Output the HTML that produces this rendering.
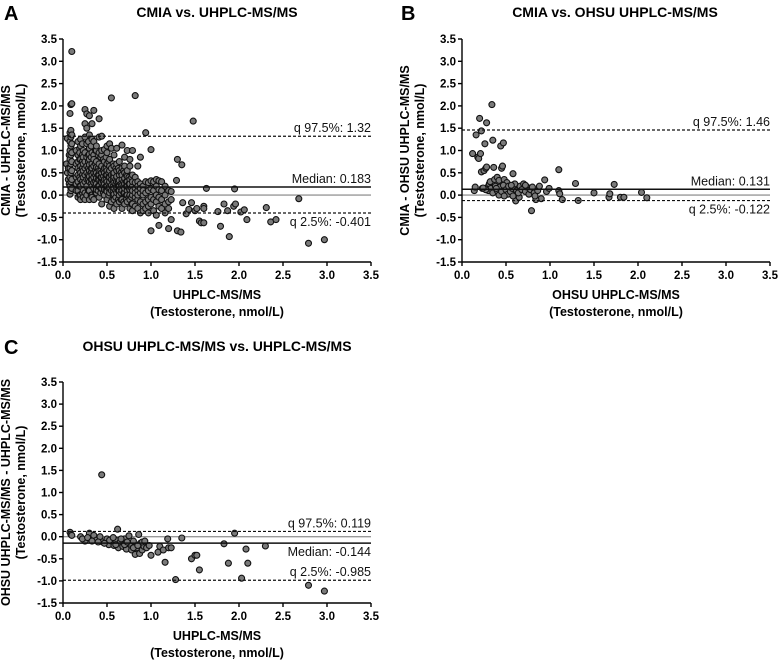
<!DOCTYPE html>
<html><head><meta charset="utf-8">
<style>
html,body{margin:0;padding:0;background:#fff;}
svg{display:block;font-family:"Liberation Sans",Arial,sans-serif;}
</style></head>
<body>
<svg id="fig" width="779" height="661" viewBox="0 0 779 661"></svg>
<script>
// ---------- shared axis ticks ----------
const xTicks=[0,0.5,1,1.5,2,2.5,3,3.5];
const yTicks=[-1.5,-1,-0.5,0,0.5,1,1.5,2,2.5,3,3.5];
const xTickLabels=["0.0","0.5","1.0","1.5","2.0","2.5","3.0","3.5"];
const yTickLabels=["-1.5","-1.0","-0.5","0.0","0.5","1.0","1.5","2.0","2.5","3.0","3.5"];

// ---------- Panel A data (column x values with their y values) ----------
const aColX=[0.04,0.05,0.06,0.07,0.08,0.09,0.1,0.15,0.17,0.19,0.2,0.22,0.23,0.25,0.27,0.29,0.3,0.32,0.33,0.35,0.37,0.38,0.4,0.41,0.43,0.44,0.46,0.47,0.49,0.5,0.52,0.53,0.55,0.57,0.58,0.6,0.61,0.63,0.64,0.66,0.67,0.69,0.7,0.72,0.73,0.75,0.76,0.78,0.79,0.82,0.85,0.88,0.91,0.94,0.97,1.0,1.03,1.06,1.09,1.12,1.16,1.2,1.23];
const aColY=[
[0.7],[1.27,0.5],[0.6,0.35],[0.25,0.9],
[0.02,0.2,0.4,0.6,0.8,1.0,1.2,1.4,1.83],
[0.1,0.3,0.5,0.7,0.9,1.1,1.3,1.45,2.03],
[0.15,0.35,0.55,0.75,0.95,1.15,1.35,2.05,3.22],
[0.1,0.4,0.7,1.0,0.25],
[1.2,0.9,0.6,0.3,0.1,-0.05,0.75,0.45],
[1.05,0.8,0.55,0.2,0.0,0.4,0.95],
[1.1,0.8,0.5,0.2,0.0,0.65,0.35,1.25,-0.1],
[0.9,0.6,0.3,0.05,0.45,0.75,1.15],
[1.0,0.7,0.4,0.1,0.55,0.25,-0.05,0.85],
[1.92,1.6,1.3,0.95,0.6,0.3,0.05,-0.1,0.45,0.75],
[1.82,1.5,1.15,0.85,0.5,0.2,0.65,0.35,0.0],
[1.2,0.9,0.6,0.35,0.1,0.75,0.45],
[1.78,1.35,1.05,0.8,0.55,0.3,0.1,-0.1,0.42,0.68,0.92],
[1.1,0.85,0.5,0.25,0.0,0.6,0.35],
[1.6,1.25,0.95,0.7,0.45,0.2,0.0,0.6,0.35,-0.05],
[1.9,1.2,0.9,0.65,0.4,0.15,-0.1,0.5,0.28,0.8],
[1.0,0.7,0.45,0.2,0.05,0.55,0.3],
[1.0,0.75,0.5,0.25,0.05,0.62,0.38,0.12,1.1],
[0.9,0.6,0.35,0.1,0.45,0.2],
[1.71,1.3,0.95,0.7,0.45,0.2,-0.05,0.33,0.55],
[0.85,0.55,0.3,0.05,0.4,0.15],
[1.32,0.9,0.65,0.4,0.15,-0.2,0.5,0.28,1.0],
[0.8,0.55,0.3,0.05,0.42,0.2],
[1.02,0.75,0.5,0.25,0.0,0.6,0.35,0.12],
[0.85,0.6,0.35,0.1,0.45,0.2],
[0.95,0.7,0.45,0.2,-0.1,0.55,0.3,0.08,1.1],
[0.75,0.5,0.25,0.0,0.4,0.15],
[1.15,0.8,0.55,0.3,0.05,-0.25,0.4,0.18,0.65],
[2.18,1.05,0.6,0.35,0.1,-0.15,0.45,0.22],
[0.7,0.45,0.2,0.0,0.33,0.1],
[0.9,0.65,0.4,0.15,-0.1,0.5,0.28,0.02,-0.3],
[0.6,0.35,0.1,-0.05,0.25],
[1.05,0.55,0.3,0.05,-0.2,0.42,0.18,0.7],
[0.6,0.3,0.1,-0.1,0.2],
[0.75,0.45,0.2,0.0,-0.15,0.33,0.1,0.55],
[0.5,0.25,0.05,-0.1,0.15],
[1.12,0.6,0.35,0.1,-0.1,0.45,0.22,-0.3],
[0.55,0.3,0.05,-0.15,0.2],
[0.85,0.5,0.25,0.05,-0.2,0.38,0.15,0.65],
[0.45,0.2,0.0,-0.1,0.3],
[1.0,0.55,0.3,0.1,-0.15,0.42,0.2,0.0],
[0.4,0.15,-0.05,0.25],
[0.65,0.35,0.12,-0.1,0.25,0.0,-0.3,0.8],
[0.4,0.15,-0.05,-0.2],
[1.0,0.45,0.2,0.0,-0.2,0.3,0.1,-0.35],
[2.23,0.4,0.15,-0.05,-0.25,0.28,0.05],
[0.65,0.3,0.1,-0.1,-0.3,0.2,0.0],
[0.85,0.25,0.05,-0.15,-0.4,0.15],
[0.2,0.0,-0.2,-0.35,0.1],
[1.4,0.3,0.05,-0.15,-0.3],
[0.28,0.1,-0.1,-0.25,-0.4],
[1.02,0.32,0.15,-0.05,-0.2,-0.8],
[0.3,0.1,-0.1,-0.35],
[0.35,0.2,0.0,-0.15,-0.45],
[0.32,0.12,-0.05,-0.25,-0.68],
[0.3,0.1,-0.1,-0.3],
[0.2,0.0,-0.2,-0.4],
[0.1,-0.15,-0.3,-0.75],
[0.08,-0.1,-0.55]
];
const aSparseX=[1.29,1.3,1.35,1.3,1.34,1.36,1.4,1.43,1.46,1.48,1.5,1.52,1.55,1.57,1.6,1.6,1.63,1.6,1.76,1.79,1.83,1.87,1.89,1.94,1.95,1.96,2.02,2.06,2.09,2.31,2.36,2.42,2.68,2.79,2.97];
const aSparseY=[0.33,0.8,0.68,-0.8,-0.83,-0.17,-0.42,-0.32,-0.17,1.66,-0.35,-0.3,-0.58,-0.62,-0.25,-0.3,0.15,-0.62,-0.37,-0.7,-0.2,-0.35,-0.93,-0.25,0.14,-0.2,-0.38,-0.33,-0.55,-0.28,-0.6,-0.55,-0.08,-1.08,-1.0];

// ---------- Panel B data ----------
const bX=[0.12,0.14,0.15,0.16,0.18,0.19,0.2,0.21,0.22,0.22,0.23,0.25,0.26,0.27,0.28,0.28,0.3,0.31,0.32,0.34,0.35,0.36,0.37,0.4,0.42,0.44,0.45,0.46,0.47,0.48,0.51,0.58,0.61,0.65,0.79,0.9,0.94,0.96,0.99,1.1,1.1,1.11,1.14,1.29,1.32,1.5,1.67,1.68,1.73,1.8,1.84,2.04,2.1,
0.3,0.33,0.35,0.38,0.4,0.42,0.43,0.45,0.47,0.5,0.52,0.53,0.55,0.57,0.58,0.6,0.62,0.64,0.66,0.68,0.7,0.72,0.74,0.76,0.78,0.8,0.82,0.84,0.86,0.88,0.6,0.56,0.48,0.39,0.27,0.24,0.72,0.83];
const bY=[0.93,0.1,0.18,1.35,0.85,0.82,1.72,0.93,1.44,0.52,0.15,0.55,1.15,0.6,1.62,0.63,0.2,0.25,0.3,2.03,1.23,0.62,0.35,0.4,0.33,1.1,0.6,0.65,1.17,0.35,0.28,0.48,-0.13,-0.05,-0.35,-0.08,0.34,0.08,0.15,0.57,0.1,0.03,-0.1,0.26,-0.12,0.05,-0.05,0.03,0.24,-0.05,-0.05,0.06,-0.06,
0.1,0.15,0.05,0.2,0.1,0.0,0.18,0.08,0.22,0.12,0.02,0.2,0.08,0.15,-0.02,0.18,0.1,0.05,0.2,0.12,0.25,0.08,0.18,0.02,0.12,0.18,0.05,-0.1,0.1,0.2,0.25,0.22,-0.02,0.15,0.12,0.16,0.22,-0.02];

// ---------- Panel C data ----------
const cX=[0.08,0.09,0.1,0.2,0.25,0.3,0.32,0.35,0.38,0.42,0.44,0.45,0.5,0.52,0.55,0.58,0.6,0.62,0.63,0.65,0.68,0.7,0.72,0.75,0.76,0.78,0.8,0.82,0.84,0.86,0.87,0.88,0.9,0.92,0.95,0.98,1.0,1.08,1.1,1.14,1.16,1.19,1.2,1.23,1.28,1.35,1.46,1.5,1.52,1.55,1.83,1.88,1.95,2.03,2.08,2.1,2.3,2.79,2.97,
0.22,0.28,0.33,0.4,0.47,0.53,0.57,0.6,0.66,0.7,0.73,0.8,0.85,0.9,0.93];
const cY=[0.1,0.05,0.03,0.0,-0.1,0.08,-0.05,0.03,-0.08,0.0,1.4,-0.12,-0.05,-0.18,-0.1,-0.2,-0.08,0.17,-0.25,-0.12,-0.22,-0.05,-0.28,0.02,-0.15,-0.3,-0.1,-0.4,-0.25,0.05,-0.38,-0.15,-0.3,-0.22,-0.25,-0.2,-0.42,-0.35,-0.22,-0.3,-0.58,-0.05,-0.25,-0.25,-0.97,-0.03,-0.5,-0.42,-0.42,-0.75,-0.16,-0.6,0.08,-0.94,-0.28,-0.6,-0.21,-1.1,-1.23,
-0.05,-0.02,-0.1,-0.12,-0.15,-0.08,-0.02,-0.18,-0.05,-0.18,-0.12,-0.25,-0.2,-0.12,-0.1];

// reference lines: [q97.5, median, q2.5]
const aStats=[1.32,0.183,-0.401];
const bStats=[1.46,0.131,-0.122];
const cStats=[0.119,-0.144,-0.985];
const aStatLabels=["q 97.5%: 1.32","Median: 0.183","q 2.5%: -0.401"];
const bStatLabels=["q 97.5%: 1.46","Median: 0.131","q 2.5%: -0.122"];
const cStatLabels=["q 97.5%: 0.119","Median: -0.144","q 2.5%: -0.985"];

const NS="http://www.w3.org/2000/svg";
const svg=document.getElementById('fig');
function mk(tag,attrs,parent,text){
  const e=document.createElementNS(NS,tag);
  for(const k in attrs)e.setAttribute(k,attrs[k]);
  if(text!==undefined)e.textContent=text;
  (parent||svg).appendChild(e);return e;
}

function panel(p){
  const g=mk('g',{});
  
  
  const sx=v=>p.x0+(v-0)/3.5*(p.x1-p.x0);
  const sy=v=>p.yb+(v+1.5)/5*(p.yt-p.yb);
  const L=mk('text',{x:p.letterX,y:p.titleY+3,'font-size':20,'font-weight':'bold'},g,p.letter);
  
  
  const T=mk('text',{x:p.titleX,y:p.titleY,'font-size':14,'font-weight':'bold','text-anchor':'middle'},g,p.title);
  
  
  const z=mk('line',{x1:p.x0,x2:p.x1,y1:sy(0),y2:sy(0),stroke:'#999','stroke-width':1.4},g);
  
  
  const pg=mk('g',{},g);
  
  
  for(let i=0;i<p.xs.length;i++){
    const c=mk('circle',{cx:sx(p.xs[i]).toFixed(1),cy:sy(p.ys[i]).toFixed(1),r:3,fill:'#7a7a7a',stroke:'#111','stroke-width':1.1},pg);
    
    
  }
  const names=['q97-line','median-line','q2-line'];
  for(let i=0;i<3;i++){
    const ln=mk('line',{x1:p.x0,x2:p.x1,y1:sy(p.stats[i]),y2:sy(p.stats[i]),stroke:'#111','stroke-width':i==1?1.5:1.2,'stroke-dasharray':i==1?'':'3,2'},g);
    
    
    const off=p.labelPos[i]=='above'?-4:13;
    const t=mk('text',{x:p.x1,y:sy(p.stats[i])+off,'font-size':12.5,'text-anchor':'end',fill:'#111'},g,p.statLabels[i]);
    
    
  }
  const ax=mk('g',{},g);
  
  
  mk('line',{x1:p.x0,x2:p.x1,y1:p.yb,y2:p.yb,stroke:'#000','stroke-width':1.4},ax);
  xTicks.forEach((v,i)=>{
    mk('line',{x1:sx(v),x2:sx(v),y1:p.yb,y2:p.yb+4,stroke:'#000','stroke-width':1.4},ax);
    const t=mk('text',{x:sx(v),y:p.yb+17,'font-size':11.5,'font-weight':'bold','text-anchor':'middle'},ax,xTickLabels[i]);
    
    
  });
  const ay=mk('g',{},g);
  
  
  mk('line',{x1:p.x0,x2:p.x0,y1:p.yt,y2:p.yb,stroke:'#000','stroke-width':1.4},ay);
  yTicks.forEach((v,i)=>{
    mk('line',{x1:p.x0-4,x2:p.x0,y1:sy(v),y2:sy(v),stroke:'#000','stroke-width':1.4},ay);
    const t=mk('text',{x:p.x0-6,y:sy(v)+4,'font-size':11.5,'font-weight':'bold','text-anchor':'end'},ay,yTickLabels[i]);
    
    
  });
  const xt=mk('text',{x:(p.x0+p.x1)/2,y:p.yb+37,'font-size':12.5,'font-weight':'bold','text-anchor':'middle'},g);
  
  
  mk('tspan',{x:(p.x0+p.x1)/2},xt,p.xTitle1);
  mk('tspan',{x:(p.x0+p.x1)/2,dy:17},xt,'(Testosterone, nmol/L)');
  const cy=(p.yt+p.yb)/2;
  const yt=mk('text',{transform:`translate(${p.x0-53},${cy}) rotate(-90)`,'font-size':12.5,'font-weight':'bold','text-anchor':'middle'},g);
  
  
  mk('tspan',{x:0,y:0},yt,p.yTitle1);
  mk('tspan',{x:0,y:15},yt,'(Testosterone, nmol/L)');
}

const aXs=[],aYs=[];
aColX.forEach((x,i)=>aColY[i].forEach(y=>{aXs.push(x);aYs.push(y);}));
aSparseX.forEach((x,i)=>{aXs.push(x);aYs.push(aSparseY[i]);});

panel({id:'a',letter:'A',letterX:4,title:'CMIA vs. UHPLC-MS/MS',titleX:217,titleY:17,x0:63,x1:371,yt:39,yb:262,
  xs:aXs,ys:aYs,stats:aStats,statLabels:aStatLabels,labelPos:['above','above','below'],
  xTitle1:'UHPLC-MS/MS',yTitle1:'CMIA - UHPLC-MS/MS'});
panel({id:'b',letter:'B',letterX:401,title:'CMIA vs. OHSU UHPLC-MS/MS',titleX:615,titleY:17,x0:462,x1:770,yt:39,yb:262,
  xs:bX,ys:bY,stats:bStats,statLabels:bStatLabels,labelPos:['above','above','below'],
  xTitle1:'OHSU UHPLC-MS/MS',yTitle1:'CMIA - OHSU UHPLC-MS/MS'});
panel({id:'c',letter:'C',letterX:4,title:'OHSU UHPLC-MS/MS vs. UHPLC-MS/MS',titleX:217,titleY:351,x0:63,x1:371,yt:382,yb:603,
  xs:cX,ys:cY,stats:cStats,statLabels:cStatLabels,labelPos:['above','below','above'],
  xTitle1:'UHPLC-MS/MS',yTitle1:'OHSU UHPLC-MS/MS - UHPLC-MS/MS'});
</script>
</body></html>
